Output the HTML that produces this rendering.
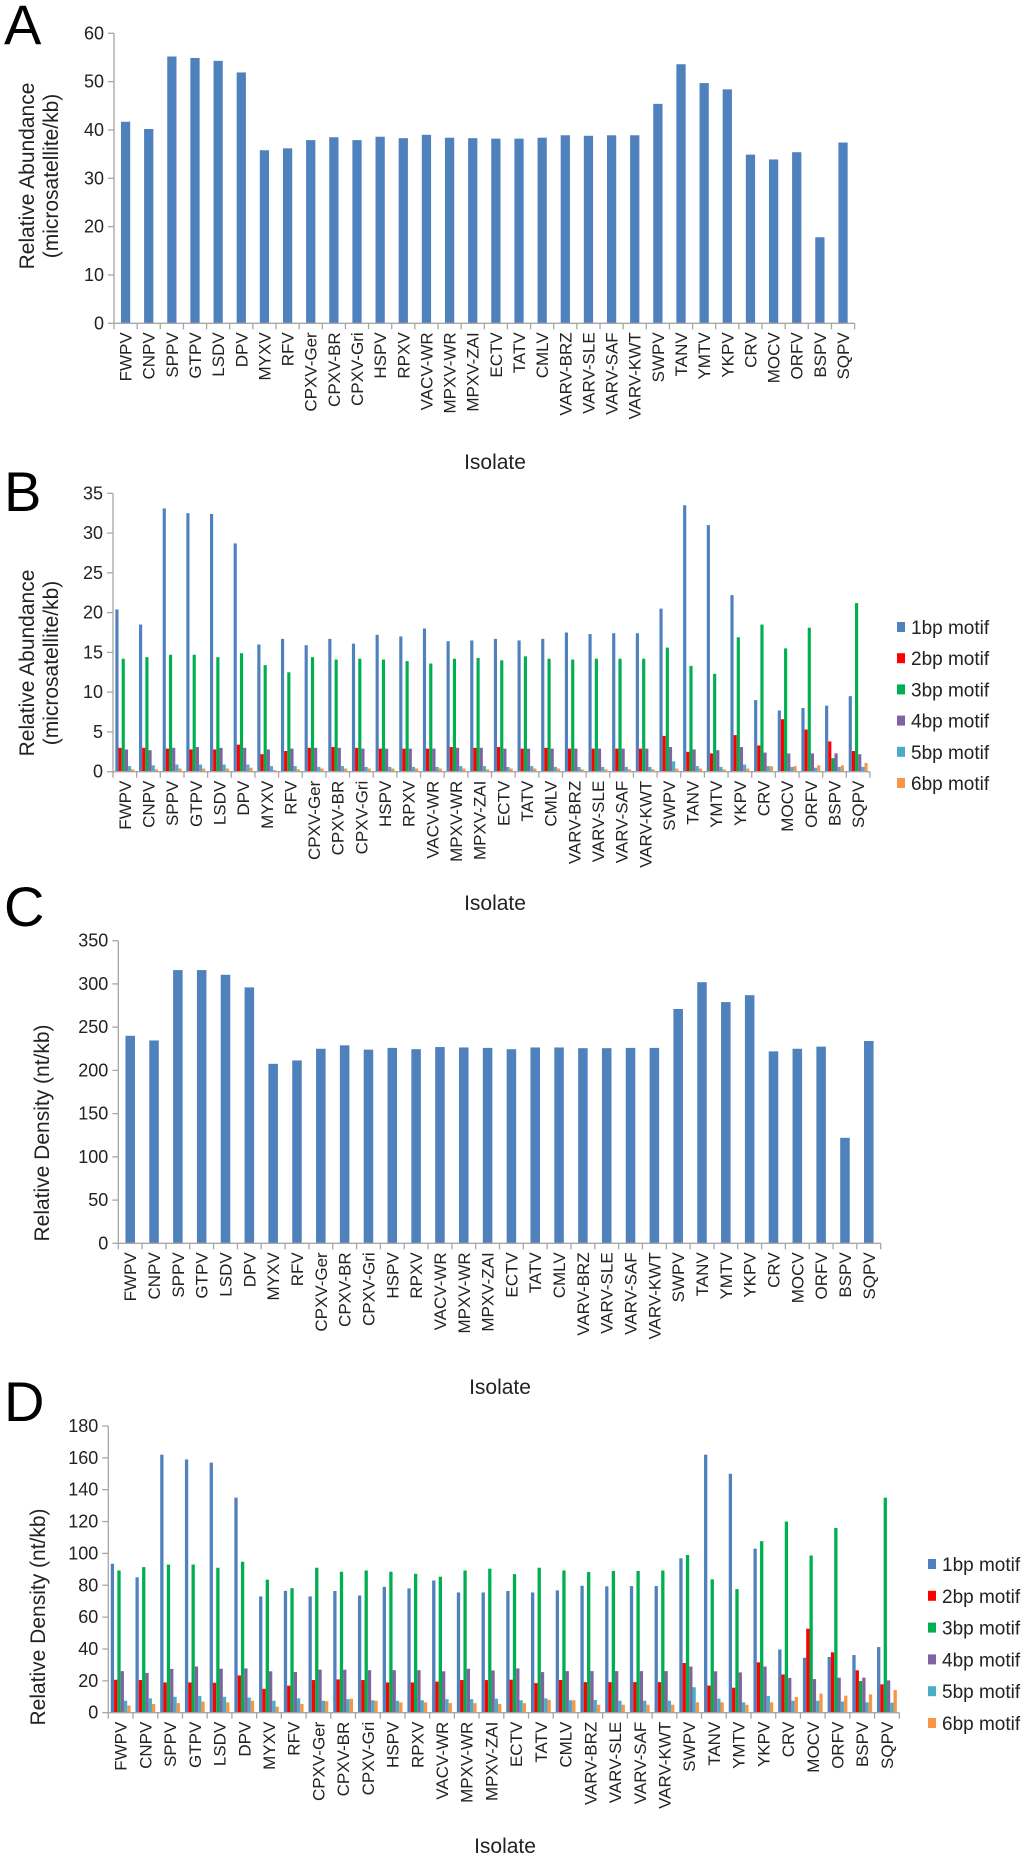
<!DOCTYPE html>
<html><head><meta charset="utf-8"><style>
html,body{margin:0;padding:0;background:#fff;}
svg{display:block;font-family:"Liberation Sans",Arial,sans-serif;}
</style></head><body>
<svg id="fig" width="1024" height="1857" viewBox="0 0 1024 1857"></svg>
<script>
const categories=["FWPV","CNPV","SPPV","GTPV","LSDV","DPV","MYXV","RFV","CPXV-Ger","CPXV-BR","CPXV-Gri","HSPV","RPXV","VACV-WR","MPXV-WR","MPXV-ZAI","ECTV","TATV","CMLV","VARV-BRZ","VARV-SLE","VARV-SAF","VARV-KWT","SWPV","TANV","YMTV","YKPV","CRV","MOCV","ORFV","BSPV","SQPV"];
const seriesNames=["1bp motif","2bp motif","3bp motif","4bp motif","5bp motif","6bp motif"];
const seriesColors=["#4f81bd","#ff0000","#00b050","#8064a2","#4bacc6","#f79646"];
const aValues=[41.7,40.2,55.2,54.9,54.3,51.9,35.8,36.2,37.9,38.5,37.9,38.6,38.3,39.0,38.4,38.3,38.2,38.2,38.4,38.9,38.8,38.9,38.9,45.4,53.6,49.7,48.4,34.9,33.9,35.4,17.8,37.4];
const aTicks=[0,10,20,30,40,50,60];
const b1=[20.4,18.5,33.1,32.5,32.4,28.7,16.0,16.7,15.9,16.7,16.1,17.2,17.0,18.0,16.4,16.5,16.7,16.5,16.7,17.5,17.3,17.4,17.4,20.5,33.5,31.0,22.2,9.0,7.7,8.0,8.3,9.5];
const b2=[3.0,3.0,2.9,2.8,2.8,3.4,2.2,2.6,3.0,3.1,3.0,2.9,2.9,2.9,3.1,3.0,3.1,2.9,3.0,2.9,2.9,2.9,2.9,4.5,2.5,2.3,4.6,3.3,6.6,5.3,3.8,2.6];
const b3=[14.2,14.4,14.7,14.7,14.4,14.9,13.4,12.5,14.4,14.1,14.2,14.1,13.9,13.6,14.2,14.3,14.0,14.5,14.2,14.1,14.2,14.2,14.2,15.6,13.3,12.3,16.9,18.5,15.5,18.1,1.7,21.2];
const b4=[2.8,2.7,3.0,3.1,3.0,3.0,2.8,2.9,3.0,3.0,2.9,2.9,2.9,2.9,3.0,3.0,2.9,2.9,2.9,2.9,2.9,2.9,2.9,3.1,2.8,2.7,3.1,2.4,2.3,2.3,2.3,2.2];
const b5=[0.7,0.8,0.9,0.9,0.9,0.9,0.7,0.7,0.6,0.7,0.6,0.6,0.6,0.6,0.7,0.7,0.6,0.7,0.6,0.6,0.6,0.6,0.6,1.3,0.7,0.6,0.9,0.7,0.6,0.5,0.6,0.6];
const b6=[0.3,0.3,0.4,0.4,0.4,0.5,0.2,0.3,0.4,0.4,0.4,0.4,0.4,0.4,0.4,0.3,0.4,0.4,0.4,0.3,0.3,0.3,0.3,0.4,0.4,0.3,0.4,0.7,0.7,0.8,0.8,1.1];
const bTicks=[0,5,10,15,20,25,30,35];
const cValues=[240,234.6,316,316,310.6,296,207.6,211.5,225,229,224,226,224.5,227,226.5,226,224.5,226.5,226.5,225.7,225.7,226,226,271,302,279,287,222,225,227.5,122,234];
const cTicks=[0,50,100,150,200,250,300,350];
const d1=[93.5,85,162,159,157,135,73,76.5,73,76.4,73.6,79,78,83,75.5,75.5,76.4,75.5,76.8,79.7,79.3,79.5,79.5,96.9,162,150,103,39.7,34.5,35,36.2,41.2];
const d2=[20.7,20.5,19,19,18.8,23.4,15,17,20.5,20.9,20.5,19,19,19.5,20.5,20.5,20.7,18.6,20.5,19.2,19.2,19.2,19.2,31.2,17,15.7,31.6,24,52.7,37.9,26.6,17.8];
const d3=[89.3,91.4,93,93,91,94.8,83.5,78.2,91,88.5,89.3,88.5,87.2,85.4,89.3,90.4,87,91,89.3,88.3,89,89,89.3,99,83.7,77.6,107.7,120,98.7,116,19.9,135];
const d4=[26.1,25,27.5,29,27.6,27.8,26,25.6,27,27,26.7,26.7,26.7,26,27.6,26.5,27.8,25.5,26.1,26.1,26.1,26.1,26.1,29,26,25.3,29,21.8,21.1,22,22,20.3];
const d5=[7.5,9,10,10.5,10,9.5,7.5,9,7.5,8.5,7.8,7.5,7.8,8.5,8.5,8.8,7.8,9,7.8,8,7.5,7.5,7.5,16,8.8,6.5,10.5,7.5,7.5,7,6.5,6.3];
const d6=[4.5,5.5,6,7,6.5,7.5,3.8,5.5,7.2,8.8,7.5,6.5,6.5,6,6,5.5,6,8,7.8,5,5,5,5,6.5,6.5,5,6.5,9.8,12,10.7,11.5,14.2];
const dTicks=[0,20,40,60,80,100,120,140,160,180];

const NS="http://www.w3.org/2000/svg";
const svg=document.getElementById('fig');
function mk(tag,attrs,parent,text){const e=document.createElementNS(NS,tag);for(const k in attrs)e.setAttribute(k,attrs[k]);if(text!==undefined)e.textContent=text;(parent||svg).appendChild(e);return e;}

function panel(cfg){
  const g=mk('g',{});
  
  
  const n=categories.length;
  const step=(cfg.x1-cfg.x0)/n;
  const ys=v=>cfg.y0-(v-cfg.min)/(cfg.max-cfg.min)*(cfg.y0-cfg.yTop);
  const xs=i=>cfg.x0+i*step;
  // letter
  const L=mk('text',{x:4,y:cfg.letterY,'font-size':56,fill:'#000'},g,cfg.letter);
  
  
  // y ticks
  cfg.ticks.forEach(t=>{
    const y=ys(t);
    mk('line',{x1:cfg.x0-6,x2:cfg.x0,y1:y,y2:y,stroke:'#a6a6a6','stroke-width':1.3},g);
    const tl=mk('text',{x:cfg.x0-10,y:y+6,'font-size':18,'text-anchor':'end',fill:'#222'},g,String(t));
    
    
  });
  // bars
  const nS=cfg.series.length;
  cfg.series.forEach((vals,s)=>{
    vals.forEach((v,i)=>{
      let x,w;
      if(nS===1){w=step*0.4;x=xs(i)+(step-w)/2;}
      else{w=step/7.5;x=xs(i)+step*0.1+s*w;}
      const r=mk('rect',{x:x,y:ys(v),width:w,height:cfg.y0-ys(v),fill:seriesColors[s]},g);
      
      
    });
  });
  // axes
  mk('line',{x1:cfg.x0,x2:cfg.x0,y1:cfg.yTop,y2:cfg.y0,stroke:'#a6a6a6','stroke-width':1.3},g);
  mk('line',{x1:cfg.x0,x2:cfg.x1,y1:cfg.y0,y2:cfg.y0,stroke:'#a6a6a6','stroke-width':1.3},g);
  for(let i=0;i<=n;i++){mk('line',{x1:xs(i),x2:xs(i),y1:cfg.y0,y2:cfg.y0+6,stroke:'#a6a6a6','stroke-width':1.3},g);}
  categories.forEach((c,i)=>{
    const cx=xs(i)+step/2+6, ty=cfg.y0+9;
    const t=mk('text',{x:0,y:0,'font-size':17,'text-anchor':'end',fill:'#222',transform:`translate(${cx},${ty}) rotate(-90)`},g,c);
    
    
  });
  const xt=mk('text',{x:cfg.isoX,y:cfg.isoY,'font-size':21,'text-anchor':'middle',fill:'#222'},g,'Isolate');
  
  
  const yt=mk('text',{'font-size':21,'text-anchor':'middle',fill:'#222',transform:`translate(${cfg.ytX},${cfg.ytY}) rotate(-90)`},g);
  
  
  cfg.ytLines.forEach((ln,k)=>{mk('tspan',{x:0,dy:k===0?(cfg.ytLines.length>1?-6:7):24},yt,ln);});
  if(cfg.legend){
    seriesNames.forEach((nm,s)=>{
      const ly=cfg.legend.y+s*cfg.legend.dy;
      const sq=mk('rect',{x:cfg.legend.x,y:ly-5,width:8,height:10,fill:seriesColors[s]},g);
      
      
      const lt=mk('text',{x:cfg.legend.x+14,y:ly+7,'font-size':19,fill:'#222'},g,nm);
      
      
    });
  }
}
panel({name:'panel-a',letter:'A',letterY:44,x0:114,x1:854.6,y0:323.3,yTop:33.3,min:0,max:60,ticks:aTicks,series:[aValues],isoX:495,isoY:469,ytX:40,ytY:176,ytLines:['Relative Abundance','(microsatellite/kb)']});
panel({name:'panel-b',letter:'B',letterY:511,x0:113,x1:870,y0:771.7,yTop:493.3,min:0,max:35,ticks:bTicks,series:[b1,b2,b3,b4,b5,b6],isoX:495,isoY:910,ytX:40,ytY:663,ytLines:['Relative Abundance','(microsatellite/kb)'],legend:{x:897,y:627,dy:31.2}});
panel({name:'panel-c',letter:'C',letterY:926,x0:118.3,x1:880.7,y0:1243.3,yTop:940.7,min:0,max:350,ticks:cTicks,series:[cValues],isoX:500,isoY:1394,ytX:42,ytY:1133,ytLines:['Relative Density (nt/kb)']});
panel({name:'panel-d',letter:'D',letterY:1421,x0:108.3,x1:899.3,y0:1712.7,yTop:1426,min:0,max:180,ticks:dTicks,series:[d1,d2,d3,d4,d5,d6],isoX:505,isoY:1853,ytX:38,ytY:1617,ytLines:['Relative Density (nt/kb)'],legend:{x:928,y:1564,dy:31.8}});
</script>
</body></html>
